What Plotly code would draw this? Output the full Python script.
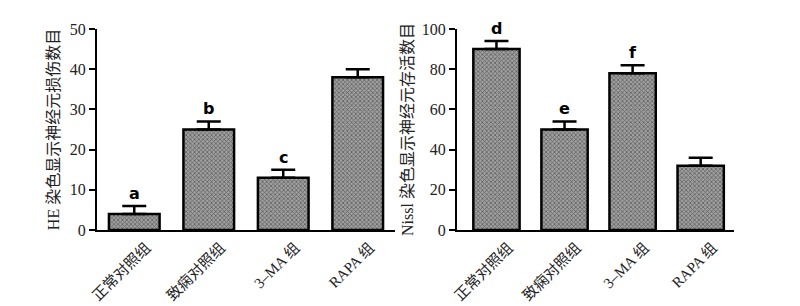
import plotly.graph_objects as go

categories = ["正常对照组", "致痫对照组", "3–MA 组", "RAPA 组"]
he_values = [4, 25, 13, 38]
he_errors = [2, 2, 2, 2]
he_letters = ["a", "b", "c", ""]
nissl_values = [90, 50, 78, 32]
nissl_errors = [4, 4, 4, 4]
nissl_letters = ["d", "e", "f", ""]

serif = "Liberation Serif, Noto Sans CJK SC, serif"

fig = go.Figure()

def add_bars(vals, errs, xa, ya):
    fig.add_trace(go.Bar(
        x=categories, y=vals, xaxis=xa, yaxis=ya, width=0.68,
        marker=dict(color="#8a8a8a", line=dict(color="black", width=2.5),
                    pattern=dict(shape="x", fgcolor="#1e1e1e", bgcolor="#a0a0a0", size=3, solidity=0.45)),
        error_y=dict(type="data", array=errs, arrayminus=[0]*len(errs), symmetric=False,
                     color="black", thickness=2.5, width=12),
        showlegend=False, hoverinfo="skip"))

add_bars(he_values, he_errors, "x", "y")
add_bars(nissl_values, nissl_errors, "x2", "y2")

for cat, v, e, t in zip(categories, he_values, he_errors, he_letters):
    if t:
        fig.add_annotation(x=cat, y=v + e, xref="x", yref="y", text="<b>%s</b>" % t,
                           showarrow=False, yanchor="bottom", yshift=1,
                           font=dict(family="DejaVu Sans, sans-serif", size=16, color="black"))
for cat, v, e, t in zip(categories, nissl_values, nissl_errors, nissl_letters):
    if t:
        fig.add_annotation(x=cat, y=v + e, xref="x2", yref="y2", text="<b>%s</b>" % t,
                           showarrow=False, yanchor="bottom", yshift=1,
                           font=dict(family="DejaVu Sans, sans-serif", size=16, color="black"))

axis_common = dict(showline=True, linecolor="black", linewidth=2, showgrid=False, zeroline=False,
                   automargin=False)
xfont = dict(family=serif, size=15, color="#222")
yfont = dict(family=serif, size=16, color="#222")

fig.update_layout(
    width=792, height=298, margin=dict(l=0, r=0, t=0, b=0),
    paper_bgcolor="white", plot_bgcolor="white",
    xaxis=dict(domain=[0.1124, 0.4886], range=[-0.5, 3.5], ticks="", tickangle=-45, anchor="y",
               tickfont=xfont, ticklabelshift=12, ticklabelstandoff=1, **axis_common),
    yaxis=dict(domain=[0.255, 0.9295], range=[0, 50], dtick=10, ticks="outside", ticklen=6,
               tickwidth=2, tickcolor="black", anchor="x", tickfont=yfont,
               title=dict(text="HE 染色显示神经元损伤数目", font=dict(family=serif, size=16, color="#222"),
                          standoff=6),
               **axis_common),
    xaxis2=dict(domain=[0.5669, 0.9167], range=[-0.58, 3.49], ticks="", tickangle=-45, anchor="y2",
                tickfont=xfont, ticklabelshift=12, ticklabelstandoff=1, **axis_common),
    yaxis2=dict(domain=[0.255, 0.9295], range=[0, 100], dtick=20, ticks="outside", ticklen=6,
                tickwidth=2, tickcolor="black", anchor="x2", tickfont=yfont,
                title=dict(text="Nissl 染色显示神经元存活数目", font=dict(family=serif, size=16, color="#222"),
                           standoff=4),
                **axis_common),
)

fig.write_html("out.html")
